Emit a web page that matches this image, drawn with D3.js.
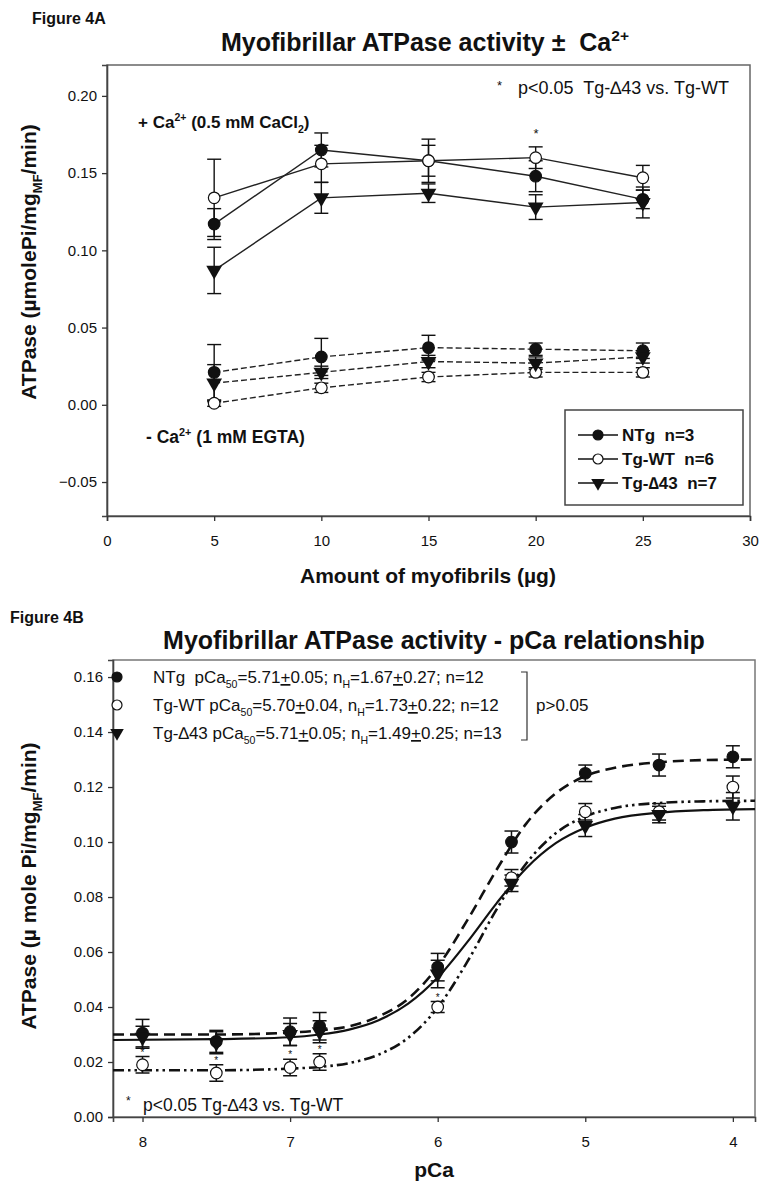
<!DOCTYPE html>
<html><head><meta charset="utf-8">
<script src="https://cdnjs.cloudflare.com/ajax/libs/d3/7.8.5/d3.min.js"></script>
<style>
body{margin:0;background:#fff}
svg text{font-family:"Liberation Sans",Arial,sans-serif;fill:#111;white-space:pre}
</style></head><body>
<svg id="fig" width="763" height="1184"></svg>
<script>
// ---- Figure 4A data ----
const amounts = [5, 10, 15, 20, 25];
const ntgCa = [0.117, 0.165, 0.158, 0.148, 0.133];
const ntgCaErr = [0.010, 0.011, 0.014, 0.010, 0.006];
const wtCa = [0.134, 0.156, 0.158, 0.160, 0.147];
const wtCaErr = [0.025, 0.012, 0.010, 0.007, 0.008];
const d43Ca = [0.087, 0.134, 0.137, 0.128, 0.131];
const d43CaErr = [0.015, 0.010, 0.006, 0.008, 0.010];
const ntgEgta = [0.021, 0.031, 0.037, 0.036, 0.035];
const ntgEgtaErr = [0.018, 0.012, 0.008, 0.004, 0.005];
const wtEgta = [0.001, 0.011, 0.018, 0.021, 0.021];
const wtEgtaErr = [0.002, 0.003, 0.003, 0.003, 0.003];
const d43Egta = [0.014, 0.021, 0.028, 0.027, 0.031];
const d43EgtaErr = [0.012, 0.004, 0.004, 0.004, 0.004];
const xTicksA = [0, 5, 10, 15, 20, 25, 30];
const yTicksA = [-0.05, 0, 0.05, 0.10, 0.15, 0.20];

// ---- Figure 4B data ----
const pCa = [8, 7.5, 7, 6.8, 6, 5.5, 5, 4.5, 4];
const ntgB = [0.0305, 0.0275, 0.031, 0.033, 0.0545, 0.100, 0.125, 0.128, 0.131];
const ntgBErr = [0.005, 0.004, 0.005, 0.005, 0.005, 0.004, 0.003, 0.004, 0.004];
const wtB = [0.019, 0.016, 0.018, 0.020, 0.040, 0.087, 0.111, 0.111, 0.120];
const wtBErr = [0.003, 0.003, 0.003, 0.003, 0.002, 0.003, 0.003, 0.003, 0.004];
const d43B = [0.029, 0.027, 0.030, 0.031, 0.052, 0.085, 0.106, 0.110, 0.113];
const d43BErr = [0.004, 0.004, 0.004, 0.004, 0.005, 0.003, 0.004, 0.003, 0.005];
// fitted curves
const fitPCa = [8.2, 7.5, 7.0, 6.8, 6.6, 6.4, 6.2, 6.0, 5.8, 5.6, 5.4, 5.2, 5.0, 4.8, 4.5, 4.2, 3.85];
const ntgFit = [0.030, 0.030, 0.0307, 0.0315, 0.033, 0.0366, 0.043, 0.0547, 0.0715, 0.090, 0.1067, 0.1177, 0.124, 0.127, 0.129, 0.1298, 0.130];
const wtFit = [0.017, 0.017, 0.0176, 0.0182, 0.0196, 0.0227, 0.0288, 0.0398, 0.0564, 0.0756, 0.0922, 0.1032, 0.1093, 0.1124, 0.1142, 0.1148, 0.115];
const d43Fit = [0.028, 0.0283, 0.029, 0.030, 0.0318, 0.0352, 0.0412, 0.0507, 0.0636, 0.0778, 0.0905, 0.0996, 0.1052, 0.1085, 0.1107, 0.1116, 0.112];
const xTicksB = [8, 7, 6, 5, 4];
const yTicksB = [0, 0.02, 0.04, 0.06, 0.08, 0.10, 0.12, 0.14, 0.16];
const sig = [8, 7.5, 7, 6.8, 6];

const svg = d3.select('#fig');
const ink = '#111';

// text with sub/superscripts: parts = [[str, 'sup'|'sub'|'u'|null], ...]
function rich(t, parts, size) {
  let shift = 0;
  parts.forEach(([s, k]) => {
    const want = k === 'sup' ? -0.42 * size : k === 'sub' ? 0.3 * size : 0;
    t.append('tspan').attr('dy', want - shift)
      .attr('font-size', k === 'sup' || k === 'sub' ? size * 0.62 : null)
      .attr('text-decoration', k === 'u' ? 'underline' : null).text(s);
    shift = want;
  });
  return t;
}

function marker(g, kind, x, y, r) {
  if (kind === 'tri') {
    g.append('path').attr('d', d3.symbol(d3.symbolTriangle, r * r * 3.2)())
      .attr('transform', `translate(${x},${y}) rotate(180)`).attr('fill', ink);
  } else {
    g.append('circle').attr('cx', x).attr('cy', y).attr('r', r)
      .attr('fill', kind === 'open' ? '#fff' : ink)
      .attr('stroke', ink).attr('stroke-width', 1.2);
  }
}

function errbars(g, xs, ys, es, x, y, cap) {
  xs.forEach((v, i) => {
    const px = x(v), y1 = y(ys[i] + es[i]), y2 = y(ys[i] - es[i]);
    g.append('line').attr('x1', px).attr('x2', px).attr('y1', y1).attr('y2', y2);
    g.append('line').attr('x1', px - cap).attr('x2', px + cap).attr('y1', y1).attr('y2', y1);
    g.append('line').attr('x1', px - cap).attr('x2', px + cap).attr('y1', y2).attr('y2', y2);
  });
}

function styleAxis(ax) {
  ax.selectAll('text').attr('font-size', 15).attr('fill', '#222');
  ax.selectAll('.domain').attr('stroke', '#444').attr('stroke-width', 1.6);
  ax.selectAll('.tick line').attr('stroke', '#333').attr('stroke-width', 1.3);
}

// ================= Figure 4A =================
const xA = d3.scaleLinear().domain([0, 30]).range([107, 750]);
const yA = d3.scaleLinear().domain([-0.072, 0.22]).range([516, 65]);

svg.append('text').attr('x', 32).attr('y', 24).attr('font-size', 16).attr('font-weight', 'bold').text('Figure 4A');
rich(svg.append('text').attr('x', 425).attr('y', 51).attr('text-anchor', 'middle')
  .attr('font-size', 25).attr('font-weight', 'bold'),
  [['Myofibrillar ATPase activity ±  Ca', null], ['2+', 'sup']], 25);

svg.append('rect').attr('x', 107).attr('y', 65).attr('width', 643).attr('height', 451)
  .attr('fill', 'none').attr('stroke', '#666').attr('stroke-width', 1.5);

const axA = svg.append('g');
axA.append('g').attr('transform', 'translate(107,0)')
  .call(d3.axisLeft(yA).tickValues(yTicksA).tickFormat(d3.format('.2f')).tickSize(5).tickPadding(5));
axA.append('g').attr('transform', 'translate(0,516)')
  .call(d3.axisBottom(xA).tickValues(xTicksA).tickSize(5).tickPadding(14));
styleAxis(axA);

svg.append('text').attr('x', 428).attr('y', 583).attr('text-anchor', 'middle')
  .attr('font-size', 21).attr('font-weight', 'bold').text('Amount of myofibrils (µg)');
rich(svg.append('text').attr('transform', 'translate(36,262) rotate(-90)').attr('text-anchor', 'middle')
  .attr('font-size', 21).attr('font-weight', 'bold'),
  [['ATPase (µmolePi/mg', null], ['MF', 'sub'], ['/min)', null]], 21);

const lineA = d3.line().x(d => xA(d[0])).y(d => yA(d[1]));
const seriesA = [
  [ntgCa, ntgCaErr, 'fill', null], [wtCa, wtCaErr, 'open', null], [d43Ca, d43CaErr, 'tri', null],
  [ntgEgta, ntgEgtaErr, 'fill', '6,3'], [wtEgta, wtEgtaErr, 'open', '6,3'], [d43Egta, d43EgtaErr, 'tri', '6,3']
];
const gA = svg.append('g');
seriesA.forEach(([vals, errs, kind, dash]) => {
  gA.append('path').attr('d', lineA(amounts.map((a, i) => [a, vals[i]])))
    .attr('fill', 'none').attr('stroke', '#222').attr('stroke-width', 1.4)
    .attr('stroke-dasharray', dash);
});
const eA = gA.append('g').attr('stroke', ink).attr('stroke-width', 1.4);
seriesA.forEach(([vals, errs]) => errbars(eA, amounts, vals, errs, xA, yA, 7));
seriesA.forEach(([vals, errs, kind]) => amounts.forEach((a, i) => marker(gA, kind, xA(a), yA(vals[i]), 5.8)));

svg.append('text').attr('x', 536).attr('y', 138).attr('text-anchor', 'middle').attr('font-size', 13).text('*');
svg.append('text').attr('x', 497).attr('y', 90).attr('font-size', 13).text('*');
svg.append('text').attr('x', 518).attr('y', 94).attr('font-size', 18).text('p<0.05  Tg-∆43 vs. Tg-WT');
rich(svg.append('text').attr('x', 138).attr('y', 128).attr('font-size', 17).attr('font-weight', 'bold'),
  [['+ Ca', null], ['2+', 'sup'], [' (0.5 mM CaCl', null], ['2', 'sub'], [')', null]], 17);
rich(svg.append('text').attr('x', 146).attr('y', 443).attr('font-size', 17.5).attr('font-weight', 'bold'),
  [['- Ca', null], ['2+', 'sup'], [' (1 mM EGTA)', null]], 17.5);

// legend A
const legA = svg.append('g');
legA.append('rect').attr('x', 565).attr('y', 410).attr('width', 178).attr('height', 95)
  .attr('fill', '#fff').attr('stroke', '#444').attr('stroke-width', 1.5);
[['NTg  n=3', 'fill'], ['Tg-WT  n=6', 'open'], ['Tg-∆43  n=7', 'tri']].forEach(([lab, kind], i) => {
  const y = 435 + i * 24;
  legA.append('line').attr('x1', 578).attr('x2', 618).attr('y1', y).attr('y2', y)
    .attr('stroke', ink).attr('stroke-width', 1.4);
  marker(legA, kind, 598, y, 5);
  legA.append('text').attr('x', 622).attr('y', y + 6).attr('font-size', 17).attr('font-weight', 'bold').text(lab);
});

// ================= Figure 4B =================
const xB = d3.scaleLinear().domain([8.2, 3.85]).range([113, 755]);
const yB = d3.scaleLinear().domain([0, 0.1662]).range([1117, 660]);

svg.append('text').attr('x', 10).attr('y', 623).attr('font-size', 16).attr('font-weight', 'bold').text('Figure 4B');
svg.append('text').attr('x', 434).attr('y', 649).attr('text-anchor', 'middle')
  .attr('font-size', 25).attr('font-weight', 'bold').text('Myofibrillar ATPase activity - pCa relationship');

svg.append('rect').attr('x', 113).attr('y', 660).attr('width', 642).attr('height', 457)
  .attr('fill', 'none').attr('stroke', '#777').attr('stroke-width', 1.5);

const axB = svg.append('g');
axB.append('g').attr('transform', 'translate(113,0)')
  .call(d3.axisLeft(yB).tickValues(yTicksB).tickFormat(d3.format('.2f')).tickSize(5).tickPadding(5));
axB.append('g').attr('transform', 'translate(0,1117)')
  .call(d3.axisBottom(xB).tickValues(xTicksB).tickFormat(d3.format('d')).tickSize(5).tickPadding(14));
styleAxis(axB);

svg.append('text').attr('x', 434).attr('y', 1177).attr('text-anchor', 'middle')
  .attr('font-size', 21).attr('font-weight', 'bold').text('pCa');
rich(svg.append('text').attr('transform', 'translate(36,886) rotate(-90)').attr('text-anchor', 'middle')
  .attr('font-size', 21).attr('font-weight', 'bold'),
  [['ATPase (µ mole Pi/mg', null], ['MF', 'sub'], ['/min)', null]], 21);

const lineB = d3.line().x(d => xB(d[0])).y(d => yB(d[1])).curve(d3.curveMonotoneX);
const gB = svg.append('g');
[[ntgFit, '11,6', 2.6], [wtFit, '11,4,2.5,4,2.5,4', 2.6], [d43Fit, null, 2.2]].forEach(([vals, dash, w]) => {
  gB.append('path').attr('d', lineB(fitPCa.map((p, i) => [p, vals[i]])))
    .attr('fill', 'none').attr('stroke', ink).attr('stroke-width', w).attr('stroke-dasharray', dash);
});
const seriesB = [[ntgB, ntgBErr, 'fill'], [wtB, wtBErr, 'open'], [d43B, d43BErr, 'tri']];
const eB = gB.append('g').attr('stroke', ink).attr('stroke-width', 1.5);
seriesB.forEach(([vals, errs]) => errbars(eB, pCa, vals, errs, xB, yB, 7));
seriesB.forEach(([vals, errs, kind]) => pCa.forEach((p, i) => marker(gB, kind, xB(p), yB(vals[i]), 5.8)));
sig.forEach(p => {
  const i = pCa.indexOf(p);
  gB.append('text').attr('x', xB(p)).attr('y', yB(wtB[i] + wtBErr[i]) - 1).attr('text-anchor', 'middle')
    .attr('font-size', 10).text('*');
});

svg.append('text').attr('x', 126).attr('y', 1105).attr('font-size', 12).text('*');
svg.append('text').attr('x', 143).attr('y', 1111).attr('font-size', 17.5).text('p<0.05 Tg-∆43 vs. Tg-WT');

// legend B
const legB = svg.append('g');
const legRows = [
  ['fill', [['NTg  pCa', null], ['50', 'sub'], ['=5.71', null], ['+', 'u'], ['0.05; n', null], ['H', 'sub'], ['=1.67', null], ['+', 'u'], ['0.27; n=12', null]]],
  ['open', [['Tg-WT pCa', null], ['50', 'sub'], ['=5.70', null], ['+', 'u'], ['0.04, n', null], ['H', 'sub'], ['=1.73', null], ['+', 'u'], ['0.22; n=12', null]]],
  ['tri', [['Tg-∆43 pCa', null], ['50', 'sub'], ['=5.71', null], ['+', 'u'], ['0.05; n', null], ['H', 'sub'], ['=1.49', null], ['+', 'u'], ['0.25; n=13', null]]]
];
legRows.forEach(([kind, parts], i) => {
  const y = 677 + i * 28;
  marker(legB, kind, 117, y, 5);
  rich(legB.append('text').attr('x', 153).attr('y', y + 6).attr('font-size', 17), parts, 17);
});
legB.append('path').attr('d', 'M521,672 H527 V740 H521').attr('fill', 'none').attr('stroke', '#333').attr('stroke-width', 1.2);
legB.append('text').attr('x', 536).attr('y', 711).attr('font-size', 17).text('p>0.05');
</script></body></html>
